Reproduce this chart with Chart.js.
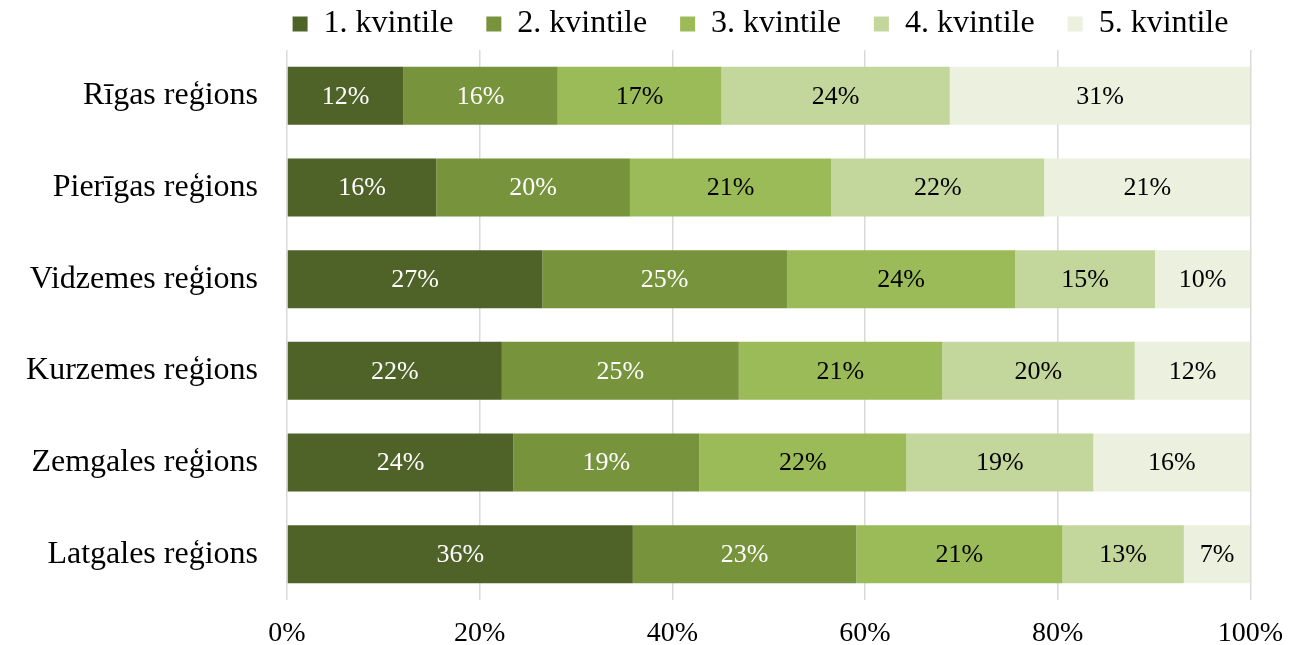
<!DOCTYPE html>
<html>
<head>
<meta charset="utf-8">
<script src="https://cdn.jsdelivr.net/npm/chart.js@4"></script>
<style>
  html, body { margin: 0; padding: 0; background: #fff; overflow: hidden; }
  #wrap { width: 1303px; height: 668px; }
</style>
</head>
<body>
<div id="wrap"><canvas id="chart"></canvas></div>
<script>
// reģioni un kvintiļu daļas (%)
const regions = ['Rīgas reģions', 'Pierīgas reģions', 'Vidzemes reģions', 'Kurzemes reģions', 'Zemgales reģions', 'Latgales reģions'];
const seriesNames = ['1. kvintile', '2. kvintile', '3. kvintile', '4. kvintile', '5. kvintile'];
const q1 = [12.1, 15.5, 26.5, 22.3, 23.5, 35.9];
const q2 = [16.0, 20.1, 25.4, 24.6, 19.3, 23.2];
const q3 = [17.0, 20.9, 23.7, 21.1, 21.5, 21.4];
const q4 = [23.7, 22.1, 14.5, 20.0, 19.4, 12.6];
const q5 = [31.2, 21.4, 9.9, 12.0, 16.3, 6.9];
const xTicks = ['0%', '20%', '40%', '60%', '80%', '100%'];

const colors = ['#4F6228', '#77933C', '#9BBB59', '#C3D69B', '#EBF1DE'];
const labelColors = ['#ffffff', '#ffffff', '#000000', '#000000', '#000000'];
const values = [q1, q2, q3, q4, q5];

const font = "'Liberation Serif', 'Times New Roman', serif";

// vērtību uzraksti uz stabiņiem
const barLabels = {
  id: 'barLabels',
  afterDatasetsDraw(chart) {
    const ctx = chart.ctx;
    ctx.save();
    ctx.font = '26px ' + font;
    ctx.textAlign = 'center';
    ctx.textBaseline = 'middle';
    chart.data.datasets.forEach((ds, i) => {
      const meta = chart.getDatasetMeta(i);
      meta.data.forEach((bar, j) => {
        const v = ds.data[j];
        const x = (bar.x + bar.base) / 2;
        ctx.fillStyle = labelColors[i];
        ctx.fillText(Math.round(v) + '%', x, bar.y + 1);
      });
    });
    ctx.restore();
  }
};

// leģenda: platas atstarpes starp vienumiem, bet zema josla, nobīdīta virs zīmējuma laukuma
const legendFit = {
  id: 'legendFit',
  beforeInit(chart) {
    const fit = chart.legend.fit;
    chart.legend.fit = function () {
      fit.call(this);
      this.height = 75;
    };
  },
  afterLayout(chart) {
    chart.legend.left += 128;
    chart.legend.right += 128;
  }
};

new Chart(document.getElementById('chart'), {
  type: 'bar',
  data: {
    labels: regions,
    datasets: seriesNames.map((name, i) => ({
      label: name,
      data: values[i],
      backgroundColor: colors[i],
      borderWidth: 0,
      categoryPercentage: 1,
      barPercentage: 0.633
    }))
  },
  options: {
    indexAxis: 'y',
    responsive: true,
    maintainAspectRatio: false,
    animation: false,
    layout: { autoPadding: false, padding: { left: 0, right: 38, top: -25, bottom: 0 } },
    plugins: {
      legend: {
        position: 'top',
        labels: {
          font: { family: font, size: 32, lineHeight: 1 },
          color: '#000',
          boxWidth: 15,
          boxHeight: 15,
          padding: 33
        }
      },
      tooltip: { enabled: false }
    },
    scales: {
      x: {
        stacked: true,
        min: 0,
        max: 100,
        border: { display: false },
        grid: { color: '#d9d9d9', lineWidth: 1.5, drawTicks: false },
        ticks: {
          stepSize: 20,
          padding: 20,
          color: '#000',
          font: { family: font, size: 28, lineHeight: 1 },
          callback: (v, i) => xTicks[i]
        }
      },
      y: {
        stacked: true,
        border: { display: false },
        grid: { display: false },
        afterFit(scale) { scale.width = 287; },
        ticks: {
          color: '#000',
          padding: 21,
          font: { family: font, size: 32 }
        }
      }
    }
  },
  plugins: [barLabels, legendFit]
});
</script>
</body>
</html>
